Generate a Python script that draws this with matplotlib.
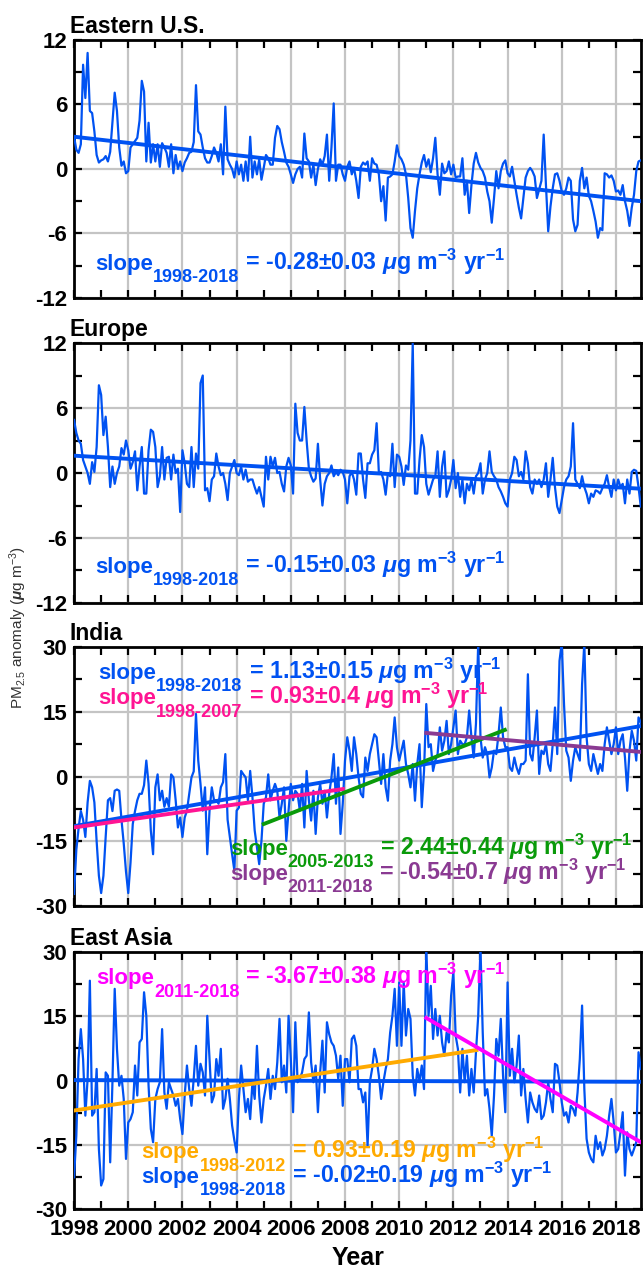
import numpy as np
import matplotlib
matplotlib.use("Agg")
import matplotlib.pyplot as plt
from matplotlib.ticker import MultipleLocator

plt.rcParams["font.family"] = "Liberation Sans"
plt.rcParams["font.weight"] = "bold"
plt.rcParams["mathtext.fontset"] = "custom"
plt.rcParams["mathtext.rm"] = "Liberation Sans:bold"
plt.rcParams["mathtext.bf"] = "Liberation Sans:bold"
plt.rcParams["mathtext.it"] = "Liberation Sans:italic:bold"
plt.rcParams["mathtext.default"] = "regular"
plt.rcParams["axes.unicode_minus"] = False

# monthly PM2.5 anomalies, Jan 1998 - Dec 2018
eus = [3.0, 1.8, 1.5, 2.3, 9.7, 6.6, 10.8, 5.4, 5.2, 3.5, 1.3, 0.6,
       0.8, 0.9, 1.2, 0.7, 1.6, 4.4, 7.1, 5.4, 2.0, 0.3, 0.7, -0.4,
       -0.2, 2.0, 2.3, 2.6, 2.9, 4.5, 8.2, 7.2, 0.7, 4.3, 0.6, 2.3,
       0.7, 2.3, 0.2, 2.4, 2.0, 1.5, 0.2, 2.3, -0.4, 1.3, 0.0, 0.7,
       -0.2, 0.6, 1.0, 1.5, 1.6, 2.5, 7.8, 3.5, 3.2, 2.0, 1.0, 0.6,
       0.6, 1.2, 2.0, 1.5, 0.7, 2.3, -0.5, 5.8, 0.9, 0.4, 0.0, -0.8,
       0.7, -0.5, 0.4, -1.1, 0.7, -1.1, 3.0, -0.8, 0.7, -0.5, 0.9, -1.0,
       0.1, 1.3, 1.0, 0.4, 0.4, 2.9, 4.0, 3.7, 2.5, 1.6, 0.6, 0.2,
       -0.5, -1.3, -0.5, 0.0, 0.2, -0.8, 3.3, 1.0, 0.7, -0.8, 0.4, -1.5,
       0.0, 0.9, 0.4, 1.2, 3.2, -1.1, 2.0, 6.1, -1.1, 0.4, 0.4, -0.5,
       -1.1, 0.2, 0.7, -0.5, 0.1, -1.1, -2.7, 0.2, 0.6, 0.4, 0.7, -1.1,
       1.0, 0.5, 0.4, -0.5, -3.0, -1.6, -4.8, -0.8, -0.7, -0.5, 0.7, 2.2,
       1.2, 0.9, 0.4, -0.5, -2.7, -5.5, -6.4, -3.9, -1.8, -0.5, 0.6, 1.3,
       0.2, 0.9, -0.3, 1.0, 2.9, -0.5, -2.4, 0.5, -0.4, -0.2, 0.7, -0.5,
       0.4, -0.8, -0.7, -0.7, 1.0, -2.4, -1.1, -4.1, -1.5, 0.5, 1.5, 0.6,
       0.1, -0.2, -0.8, -2.1, -3.0, -5.0, -2.7, -0.2, -1.8, -0.2, 0.5, 0.8,
       -0.4, -0.7, 0.2, -1.1, -2.4, -3.6, -4.6, -2.7, -0.8, -0.2, 0.1, -0.2,
       -0.7, -2.7, -1.9, -1.1, 3.2, -1.5, -5.8, -3.5, -1.8, -0.5, -0.4, -1.1,
       -2.1, -2.4, -1.8, -0.8, -1.1, -4.7, -5.8, -5.2, -1.1, 0.1, -1.8, -0.8,
       -2.5, -3.0, -3.9, -4.9, -6.4, -5.5, -5.7, -0.4, -0.5, -0.8, -0.6, -1.1,
       -2.1, -2.0, -2.4, -1.5, -3.0, -3.9, -5.3, -3.6, -2.4, -0.2, 0.7, 0.8]

eur = [4.9, 3.7, 3.0, 2.7, 1.2, 0.6, 0.0, -1.0, 1.0, 0.1, 2.4, 8.1,
       7.2, 3.5, 5.2, 2.4, -1.3, 0.6, -1.0, 0.0, 0.6, 2.3, 1.7, 3.0,
       2.1, 0.4, 1.0, 2.0, -1.6, 0.6, 2.4, -1.9, -1.9, 2.1, 4.0, 3.8,
       2.4, -1.3, -0.3, 2.4, -0.6, 1.4, 1.5, -0.6, 1.7, 0.0, 0.4, -3.6,
       2.1, 0.9, -1.0, -1.3, 2.4, -1.3, 1.8, 0.4, 8.3, 9.0, -1.6, -1.4,
       -2.6, -0.6, -0.3, 1.8, 0.6, -0.2, 0.0, -1.0, -2.5, 0.0, 0.6, 1.2,
       0.0, -0.2, 0.6, -0.6, 0.3, -0.8, -0.6, -0.6, -1.3, -1.9, -1.3, -2.2,
       -3.1, 1.5, -0.6, 1.5, 0.6, 1.4, 0.0, 0.1, -1.0, -1.7, 0.6, 1.4,
       0.7, -1.9, 6.4, 3.7, 3.0, 3.0, 6.1, 3.0, 0.4, -0.3, -0.8, -0.5,
       2.7, -0.6, -3.0, -1.0, -0.3, 0.0, 0.7, -0.3, 0.1, -0.2, 0.3, 0.1,
       -0.6, -2.8, -0.3, 0.1, -0.6, -2.0, 1.8,
       1.8, -0.6, -2.3, 0.9, 0.9, 1.7, 2.1, 4.6, 0.0, 0.1, -0.6, -2.0,
       0.0, -0.3, 2.7, -1.3, 1.7, 1.5, 0.6, -1.1, 0.7, 0.3, 3.0, 12.0,
       -1.9, -1.9, 1.2, 3.5, 2.4, -1.0, -2.0, -1.3, -0.6, -0.3, 2.0, -2.2,
       0.6, 2.0, -2.2, -1.6, -0.6, 1.2, -1.4, 0.0, -2.2, -0.6, -2.8, -1.0,
       -1.6, -0.6, -1.9, -0.3, 0.0, 0.9, -1.9, -0.6, 0.0, 2.0, 0.1, -0.3,
       -0.6, -1.3, -1.7, -2.2, -2.8, -3.1, -0.6, 0.0, 1.5, 1.2, -0.3, 0.1,
       -0.6, 2.0, 0.9, -1.3, -1.9, -0.6, -1.0, -0.6, -1.3, -0.6, 0.9, -2.2,
       -0.6, 1.4, -1.3, -3.1, -3.7, -2.5, -1.3, -0.6, -0.3, 0.6, 4.6, -0.6,
       -1.0, -1.4, -0.3, -1.3, -1.9, -2.8, -1.9, -2.2, -1.6, -1.7, -1.9, -1.4,
       -1.0, -0.2, -1.3, -2.2, -0.6, -1.6, -0.6, -1.3, -1.0, -2.8, -0.6, -1.9,
       0.1, 0.3, 0.2, -1.3, -3.1]

ind = [-27.2, -17, -12, -8, -10, -14, -6, -1, -2.5, -6, -15, -23,
       -27, -23, -14, -5.5, -5, -8, -3.3, -3, -3.3, -10, -15.5, -22,
       -27, -20, -11, -8, -5.5, -4, -4, -2, 3.7, -1.7, -12.5, -18,
       -2.5, 0.5, -5.5, -3.3, -7, -5, -7, 0.5, -0.2, -5.5, -11.8, -9.5,
       -14, -9.5, -7.9, -4, -0.2, 1.2, 14.5, 3.7, -1.7, -7.9, -2.5, -18,
       -7.9, -2.5, -5.5, -5.5, -6.3, -2.5, -1.3, 5.2, -10, -14, -18, -21.8,
       -7.9, -7.2, 1.3, 0.5, -0.2, -5.5, 1.3, -4.8, -12.5, -16.4, -20.3, -14.9,
       -6.3, -4.8, 0.5, -5.5, -3.3, -1.7, -3.3, -9.5, -6.3, -2.5, -14.9, -7.9,
       -1.7, -5.5, -3.3, -4, -7.9, -1.7, -11.8, 1.3, -5.5, -10.2, -3.3, -13.3,
       -4.8, -1.7, -6.3, -3.3, -9.5, -4, -0.2, 5.2, -6.3, 2.1, -13.3, -6.3,
       3.7, 9.1, 6.0, 1.3, 9.1, 5.2, -0.2,
       -4, -4.8, 4.4, 1.3, 5.2, 7.5, 9.8, 9.1, 3.7, -1.7, 5.2, -2.5,
       -5.6, 3.7, 7.5, 13.7, 6.8, 3.7, 6.0, 8.3, 2.9, 0.6, -2.5, 2.9,
       -5.6, 2.9, 7.5, -7.1, 1.3, 16.8, 6.8, 7.5, 1.3, 3.7, 5.2, 11.4,
       6.0, 8.3, 12.9, 5.2, 7.5, 11.4, 15.3, 5.2, 8.3, 7.5, 7.5, 9.1,
       15.3, 9.1, 4.4, 12.2, 31, 9.1, 4.4, 6.8, 5.2, -0.2, 2.1, 6.0,
       5.2, 9.8, 16.0, 9.1, 6.8, 6.8, 2.1, 1.3, 4.4, 2.1, 0.6, 2.9,
       2.9, 3.7, 23.7, 5.2, 3.7, 9.1, 15.3, 0.6, 6.0, 5.2, 7.5, 2.9,
       1.3, 7.5, 16.0, 5.2, 26.8, 31, 16.8, 6.0, 4.4, -1.0, 3.7, 6.8,
       5.2, 3.7, 21.4, 31, 9.1, 2.9, 1.3, 5.2, 2.9, 0.6, 2.9, 1.3,
       7.5, 11.4, 8.3, 5.2, 7.5, 11.4, 5.2, 8.3, 9.8, 4.4, -3.3, 6.0,
       10.6, 8.3, 3.7, 13.7, 12.5]

eas = [-22.6, -12.9, 5.0, 12.0, 5.0, -8.2, 0.4, 23.3, -8.2, -7.4, 2.7, -16.0,
       -24.5, -23.0, 1.9, 1.1, -19.1, -0.4, 21.4, 7.4, -1.2, 1.1, -4.3, -18.3,
       -9.8, -9.0, -7.4, 3.5, -3.5, 8.9, 9.7, 20.6, 15.1, -1.2, -11.3, -14.4,
       -4.3, -2.0, -0.4, 12.0, -2.8, -6.6, -0.4, -2.0, -3.5, -5.9, -4.3, -9.0,
       -12.5, -3.5, 3.5, -2.0, -5.9, 0.4, 8.1, -1.2, 3.9, 1.9, -3.5, 15.1,
       5.0, -5.1, -3.5, 5.0, 1.1, 7.4, -6.6, -4.3, 0.4, -4.3, -10.5, -14.0,
       -16.8, -4.3, 3.5, -2.0, -7.4, -4.3, -9.0, -0.4, -4.3, 8.1, -3.5, -9.8,
       -4.3, -1.2, 2.7, -4.3, 1.1, -2.0, 4.2, 14.4, -0.4, 3.5, -2.8, 15.1,
       5.0, -7.4, 13.6, -0.4, 0.4, 1.9, 5.0, 5.8, 15.9, 4.2, -0.4, 3.5,
       -7.4, 1.9, 9.3, -2.8, 13.6, 10.8, 8.9, 8.1, 5.8, 0.4, 5.8, -5.9,
       5.0, 5.0, -0.4, 9.7, 10.5, 8.1, -2.0,
       -2.0, -5.1, -2.8, -15.2, -0.4, 2.7, 7.4, 5.0, 1.1, -4.3, -0.4, 2.7,
       5.0, 11.2, 15.1, 21.4, 8.1, 22.9, 8.1, 22.9, 10.5, 16.7, 14.4, 1.1,
       -3.5, 2.7, -0.4, 3.5, -2.0, 31, 15.1, 22.1, 9.7, 16.7, 10.5, 15.1,
       8.9, 5.8, 11.2, 8.9, 19.8, 25.3, 10.5, 7.4, -2.8, 7.4, -0.4, 5.8,
       -3.5, 2.7, -2.8, 6.6, 15.1, 31, 11.2, -3.5, -2.0, -6.6, -12.9, -3.5,
       9.7, 5.8, 14.4, 1.1, -7.4, 22.9, 1.1, 7.4, -0.4, 3.5, 10.5, -3.5,
       2.7, -4.3, -9.8, -2.8, -5.1, -6.6, -7.4, -3.5, -9.0, -8.2, -5.1, -0.4,
       -4.3, -7.4, 3.9, 3.5, -0.4, -5.1, -8.2, -7.4, -9.8, -5.9, -6.6, -8.2,
       -2.8, 5.0, 17.5, -2.0, -13.6, -16.8, -18.3, -19.1, -12.9, -16.0, -14.4, -17.5,
       -16.0, -12.9, -8.2, -4.3, -9.8, -16.8, -16.0, -12.1, -7.4, -22.2, -12.1, -16.0,
       -17.5, -16.0, -14.4, 6.6, 2.7]

# fitted trend lines: start/end year and start/end value
eus_trend_x, eus_trend_y = [1998, 2018.92], [3.0, -3.0]
eur_trend_x, eur_trend_y = [1998, 2018.92], [1.6, -1.45]
ind_all_x, ind_all_y = [1998, 2018.92], [-11.5, 11.7]
ind_9807_x, ind_9807_y = [1998, 2007.92], [-11.8, -2.9]
ind_0513_x, ind_0513_y = [2005.0, 2013.9], [-11.0, 10.8]
ind_1118_x, ind_1118_y = [2011.0, 2018.92], [10.1, 5.7]
eas_all_x, eas_all_y = [1998, 2018.92], [0.1, -0.3]
eas_9812_x, eas_9812_y = [1998, 2012.85], [-7.0, 7.1]
eas_1118_x, eas_1118_y = [2011.0, 2018.92], [14.6, -14.4]

regions = ["Eastern U.S.", "Europe", "India", "East Asia"]
ylimits = [12, 12, 30, 30]

BLUE = "#0052f2"
PINK = "#ff1493"
GREEN = "#0a9a0a"
PURPLE = "#8a3a92"
MAGENTA = "#ff00ff"
ORANGE = "#ffaa00"


def slope_text(ax, x, y, years, value, color):
    # "slope", a lowered subscript with the years, then the value and units
    t1 = ax.text(x, y, "slope", color=color, fontsize=16, zorder=5)
    t2 = ax.annotate(years, xy=(1, y), xycoords=(t1, "data"),
                     xytext=(0, -9), textcoords="offset points",
                     color=color, fontsize=13, va="baseline", zorder=5)
    ax.annotate(" = " + value + r" $\mathit{\mu}$g m$^{-3}$ yr$^{-1}$",
                xy=(1, y), xycoords=(t2, "data"), xytext=(0, 0),
                textcoords="offset points", color=color, fontsize=16.7,
                va="baseline", zorder=5)


fig = plt.figure(figsize=(6.44, 12.70), dpi=100)
boxes = [[0.115, 0.7654, 0.880, 0.2031],
         [0.115, 0.5252, 0.880, 0.2047],
         [0.115, 0.2866, 0.880, 0.2039],
         [0.115, 0.0480, 0.880, 0.2024]]
axes = [fig.add_axes(b) for b in boxes]

for ax, name, data, ym in zip(axes, regions, [eus, eur, ind, eas], ylimits):
    t = 1998 + np.arange(len(data)) / 12.0
    ax.plot(t, data, color=BLUE, lw=1.6, zorder=3)
    ax.set_xlim(1998, 2018 + 11 / 12)
    ax.set_ylim(-ym, ym)
    ax.xaxis.set_major_locator(MultipleLocator(2))
    ax.xaxis.set_minor_locator(MultipleLocator(1))
    ax.yaxis.set_major_locator(MultipleLocator(ym / 2))
    ax.yaxis.set_minor_locator(MultipleLocator(ym / 4))
    ax.grid(which="major", color="#c4c4c4", lw=1.6)
    ax.set_axisbelow(True)
    ax.tick_params(which="both", direction="in", top=True, right=True,
                   width=1.6, length=6, labelsize=16, pad=5)
    ax.tick_params(axis="x", pad=7)
    for s in ax.spines.values():
        s.set_linewidth(2)
    ax.text(-0.008, 1.027, name, transform=ax.transAxes, fontsize=16.5,
            ha="left", va="baseline")
    if ax is not axes[-1]:
        ax.tick_params(labelbottom=False)

ax1, ax2, ax3, ax4 = axes
ax1.plot(eus_trend_x, eus_trend_y, color=BLUE, lw=2.8, zorder=4)
slope_text(ax1, 1998.77, -9.4, "1998-2018", "-0.28±0.03", BLUE)

ax2.plot(eur_trend_x, eur_trend_y, color=BLUE, lw=2.8, zorder=4)
slope_text(ax2, 1998.77, -9.2, "1998-2018", "-0.15±0.03", BLUE)

ax3.plot(ind_all_x, ind_all_y, color=BLUE, lw=2.8, zorder=4)
ax3.plot(ind_9807_x, ind_9807_y, color=PINK, lw=2.8, zorder=4)
ax3.plot(ind_0513_x, ind_0513_y, color=GREEN, lw=2.8, zorder=4)
ax3.plot(ind_1118_x, ind_1118_y, color=PURPLE, lw=2.8, zorder=4)
slope_text(ax3, 1998.9, 22.7, "1998-2018", "1.13±0.15", BLUE)
slope_text(ax3, 1998.9, 16.8, "1998-2007", "0.93±0.4", PINK)
slope_text(ax3, 2003.75, -18.1, "2005-2013", "2.44±0.44", GREEN)
slope_text(ax3, 2003.75, -23.9, "2011-2018", "-0.54±0.7", PURPLE)

ax4.plot(eas_all_x, eas_all_y, color=BLUE, lw=2.8, zorder=4)
ax4.plot(eas_9812_x, eas_9812_y, color=ORANGE, lw=2.8, zorder=4)
ax4.plot(eas_1118_x, eas_1118_y, color=MAGENTA, lw=2.8, zorder=4)
slope_text(ax4, 1998.81, 22.5, "2011-2018", "-3.67±0.38", MAGENTA)
slope_text(ax4, 2000.49, -18.1, "1998-2012", "0.93±0.19", ORANGE)
slope_text(ax4, 2000.49, -23.9, "1998-2018", "-0.02±0.19", BLUE)

fig.text(0.028, 0.506, r"PM$_{2.5}$ anomaly ($\mathit{\mu}$g m$^{-3}$)",
         rotation=90, ha="center", va="center", fontsize=11, fontweight="normal",
         color="#333333")
fig.text(0.556, 0.004, "Year", ha="center", va="baseline", fontsize=18)

fig.savefig("out.png", dpi=100)
